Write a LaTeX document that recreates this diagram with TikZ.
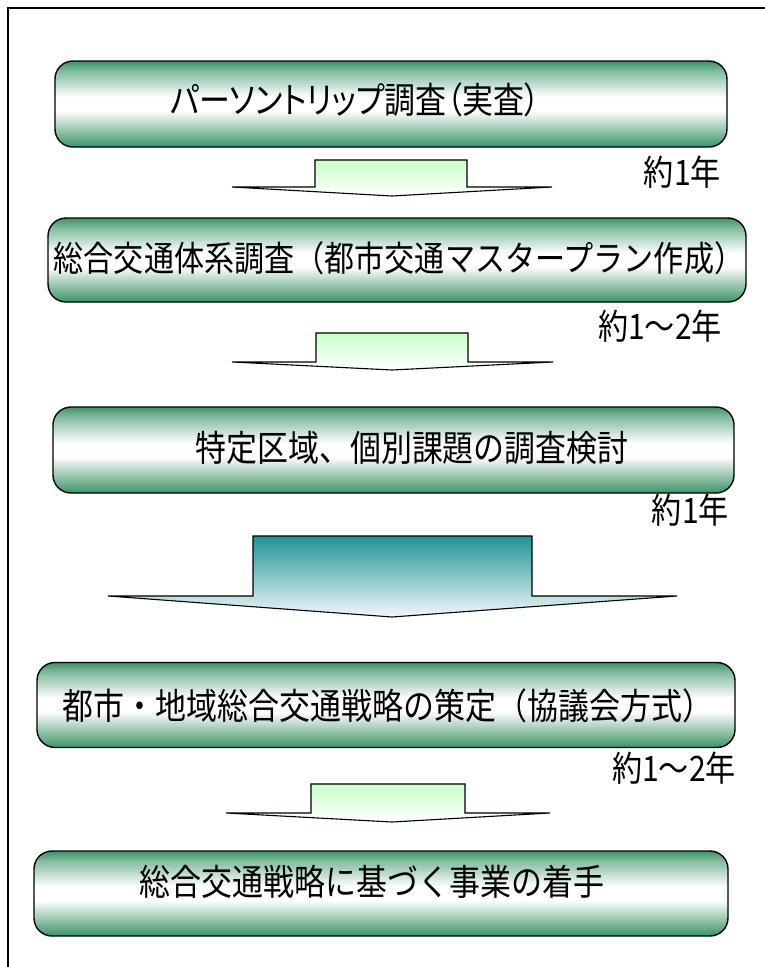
\documentclass[tikz,border=0pt]{standalone}
\usepackage{fontspec}
\newfontfamily\jp{Noto Sans CJK JP}[FakeStretch=0.86]
\newfontfamily\jpp{Noto Sans CJK JP}[FakeStretch=0.86,RawFeature=+palt]
\definecolor{boxgreen}{RGB}{58,148,102}
\definecolor{arrowgreen}{RGB}{200,255,200}
\definecolor{teal}{RGB}{30,148,150}
\definecolor{tealend}{RGB}{242,247,250}
\pgfdeclareverticalshading{boxshade}{100bp}{%
  color(0bp)=(boxgreen); color(25bp)=(boxgreen); color(31bp)=(boxgreen!72!white);
  color(46bp)=(white); color(54bp)=(white); color(69bp)=(boxgreen!62!white);
  color(75bp)=(boxgreen); color(100bp)=(boxgreen)}
\tikzset{
  stagebox/.style={draw=black, line width=1.4pt, rounded corners=18pt, shading=boxshade, inner sep=0pt},
  stagetext/.style={font=\jp\fontsize{36}{36}\selectfont, inner sep=0pt, anchor=center},
  yearlabel/.style={font=\jp\fontsize{35}{35}\selectfont, inner sep=0pt, anchor=east},
  smallarrow/.style={draw=black, line width=1.1pt, line join=miter, top color=arrowgreen, bottom color=white},
  bigarrow/.style={draw=black, line width=1.1pt, line join=miter, top color=teal, bottom color=tealend},
  frameline/.style={draw=black, line width=2pt}
}
\begin{document}
\begin{tikzpicture}[x=1pt,y=-1pt]
\useasboundingbox (0,0) rectangle (764,967);
% frame
\coordinate (fbl) at (8,970);
\coordinate (ftl) at (8,8);
\coordinate (ftr) at (770,8);
\draw[frameline] (fbl) -- (ftl) -- (ftr);

% stage boxes
\node[stagebox, minimum width=672pt, minimum height=86pt] (b1) at (391,104) {};
\node[stagetext] (t1) at (355,100) {\jpp パーソントリップ調査（実査）};
\node[yearlabel] (y1) at (721,172) {約1年};

\node[stagebox, minimum width=698pt, minimum height=84pt] (b2) at (397,260) {};
\node[stagetext, font=\jp\fontsize{35}{35}\selectfont] (t2) at (399,258) {総合交通体系調査（都市交通マスタープラン作成）};
\node[yearlabel] (y2) at (722,326) {約1～2年};

\node[stagebox, minimum width=681pt, minimum height=86pt] (b3) at (393.5,450) {};
\node[stagetext] (t3) at (412,448) {特定区域、個別課題の調査検討};
\node[yearlabel] (y3) at (729,510) {約1年};

\node[stagebox, minimum width=698pt, minimum height=85pt] (b4) at (386,705) {};
\node[stagetext] (t4) at (388,706) {都市・地域総合交通戦略の策定（協議会方式）};
\node[yearlabel] (y4) at (736,768) {約1～2年};

\node[stagebox, minimum width=694pt, minimum height=85pt] (b5) at (381,893.5) {};
\node[stagetext] (t5) at (372,882) {総合交通戦略に基づく事業の着手};

% arrows
\draw[smallarrow] (315,160) -- (467,160) -- (467,187) -- (552,187) -- (392,196) -- (232,187) -- (315,187) -- cycle;
\draw[smallarrow] (316,333) -- (468,333) -- (468,362) -- (553,362) -- (392,370) -- (232,362) -- (316,362) -- cycle;
\draw[bigarrow] (253,536) -- (532,536) -- (532,596) -- (677,596) -- (392,617) -- (108,596) -- (253,596) -- cycle;
\draw[smallarrow] (311,784) -- (465,784) -- (465,813) -- (550,813) -- (392,822) -- (226,813) -- (311,813) -- cycle;
\end{tikzpicture}
\end{document}
